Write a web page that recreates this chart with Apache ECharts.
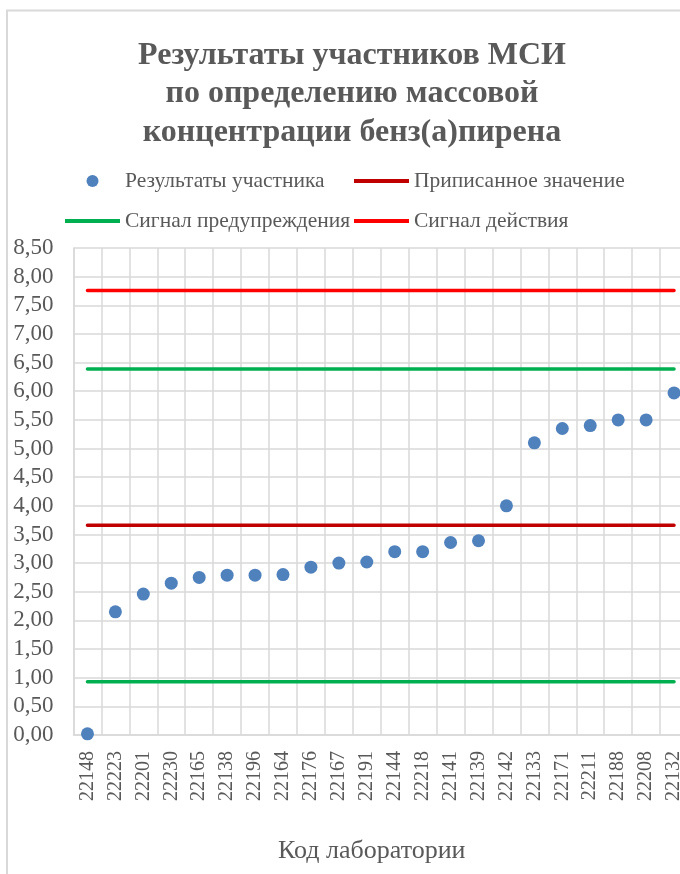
<!DOCTYPE html>
<html>
<head>
<meta charset="utf-8">
<script src="https://cdn.jsdelivr.net/npm/echarts@6/dist/echarts.min.js"></script>
<style>
  html, body { margin: 0; padding: 0; background: #fff; }
  #chart { width: 680px; height: 874px; }
</style>
</head>
<body>
<div id="chart"></div>
<script>
const LABS = ['22148', '22223', '22201', '22230', '22165', '22138', '22196', '22164', '22176', '22167', '22191',
  '22144', '22218', '22141', '22139', '22142', '22133', '22171', '22211', '22188', '22208', '22132'];

const RESULTS = [0.02, 2.15, 2.46, 2.65, 2.75, 2.79, 2.79, 2.80, 2.93, 3.00, 3.02,
  3.20, 3.20, 3.36, 3.39, 4.00, 5.10, 5.35, 5.40, 5.50, 5.50, 5.97];

const ASSIGNED = [3.66, 3.66, 3.66, 3.66, 3.66, 3.66, 3.66, 3.66, 3.66, 3.66, 3.66,
  3.66, 3.66, 3.66, 3.66, 3.66, 3.66, 3.66, 3.66, 3.66, 3.66, 3.66];
const WARN_HI = [6.39, 6.39, 6.39, 6.39, 6.39, 6.39, 6.39, 6.39, 6.39, 6.39, 6.39,
  6.39, 6.39, 6.39, 6.39, 6.39, 6.39, 6.39, 6.39, 6.39, 6.39, 6.39];
const WARN_LO = [0.93, 0.93, 0.93, 0.93, 0.93, 0.93, 0.93, 0.93, 0.93, 0.93, 0.93,
  0.93, 0.93, 0.93, 0.93, 0.93, 0.93, 0.93, 0.93, 0.93, 0.93, 0.93];
const ACTION_HI = [7.76, 7.76, 7.76, 7.76, 7.76, 7.76, 7.76, 7.76, 7.76, 7.76, 7.76,
  7.76, 7.76, 7.76, 7.76, 7.76, 7.76, 7.76, 7.76, 7.76, 7.76, 7.76];

const FONT = '"Liberation Serif", "Times New Roman", serif';
const GREY = '#595959';
const GRID_LINE = { color: '#d9d9d9', width: 1.5 };
const LINE_ICON = 'path://M0 0H55V4H0Z';

const c = echarts.init(document.getElementById('chart'), null, { renderer: 'canvas' });

const level = (name, data, color) => ({
  name, type: 'line', data, symbol: 'none', z: 2,
  lineStyle: { color, width: 3.5, cap: 'round' },
  itemStyle: { color },
});

const LEGEND = {
  orient: 'vertical', top: 170, padding: 0, itemWidth: 55, itemHeight: 12, itemGap: 18,
  textStyle: { color: GREY, fontFamily: FONT, fontSize: 21.5, lineHeight: 22 },
};

c.setOption({
  animation: false,
  textStyle: { fontFamily: FONT },
  graphic: [{
    type: 'rect', silent: true,
    shape: { x: 7, y: 10.5, width: 700, height: 900 },
    style: { fill: 'none', stroke: '#d9d9d9', lineWidth: 2 },
  }],
  title: {
    text: 'Результаты участников МСИ\nпо определению массовой\nконцентрации бенз(а)пирена',
    left: 347, top: 31, textAlign: 'center',
    textStyle: { color: GREY, fontFamily: FONT, fontWeight: 'bold', fontSize: 32, lineHeight: 38.5 },
  },
  legend: [
    { ...LEGEND, left: 65, data: ['Результаты участника', { name: 'Сигнал предупреждения', icon: LINE_ICON }] },
    { ...LEGEND, left: 354, data: [{ name: 'Приписанное значение', icon: LINE_ICON }, { name: 'Сигнал действия', icon: LINE_ICON }] },
  ],
  grid: { left: 73.5, top: 248, width: 614.5, height: 487, outerBoundsMode: 'none' },
  xAxis: {
    type: 'category', data: LABS, boundaryGap: true,
    name: 'Код лаборатории', nameLocation: 'middle', nameGap: 103,
    nameTextStyle: { color: GREY, fontFamily: FONT, fontSize: 26, padding: [0, 18, 0, 0] },
    axisLine: { lineStyle: GRID_LINE },
    axisTick: { show: false },
    splitLine: { show: true, lineStyle: GRID_LINE },
    axisLabel: { rotate: 90, interval: 0, margin: 16, color: GREY, fontFamily: FONT, fontSize: 20 },
  },
  yAxis: {
    type: 'value', min: 0, max: 8.5, interval: 0.5,
    axisLine: { show: true, lineStyle: GRID_LINE },
    axisTick: { show: false },
    splitLine: { lineStyle: GRID_LINE },
    axisLabel: {
      margin: 20, color: GREY, fontFamily: FONT, fontSize: 23,
      formatter: v => v.toFixed(2).replace('.', ','),
    },
  },
  series: [
    {
      name: 'Результаты участника', type: 'scatter', data: RESULTS, z: 3,
      symbolSize: 13, itemStyle: { color: '#4f81bd', opacity: 1 },
    },
    level('Приписанное значение', ASSIGNED, '#c00000'),
    level('Сигнал предупреждения', WARN_HI, '#00b050'),
    level('Сигнал предупреждения', WARN_LO, '#00b050'),
    level('Сигнал действия', ACTION_HI, '#ff0000'),
  ],
});
</script>
</body>
</html>
